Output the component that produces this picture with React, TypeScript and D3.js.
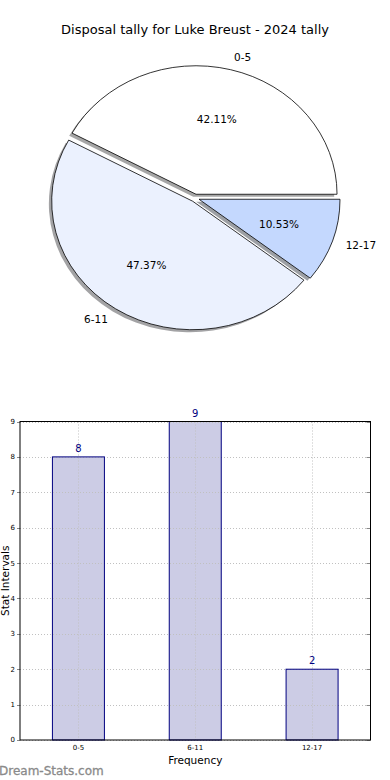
import { useEffect, useRef } from "react";
import * as d3 from "d3";

const categories = ["0-5", "6-11", "12-17"];
const counts = [8, 9, 2];
const sliceColors = ["#ffffff", "#ebf1fe", "#c4d8fe"];
const yTicks = [0, 1, 2, 3, 4, 5, 6, 7, 8, 9];

const W = 390;
const H = 780;
const FONT = "DejaVu Sans, Verdana, sans-serif";

export default function App() {
  const svgRef = useRef<SVGSVGElement>(null);

  useEffect(() => {
    if (!svgRef.current) return;
    const svg = d3.select(svgRef.current);
    svg.selectAll("*").remove();

    svg
      .append("rect")
      .attr("width", W)
      .attr("height", H)
      .attr("fill", "#ffffff");

    // ---- pie ----
    const cx = 195;
    const cy = 198;
    const rx = 141;
    const ry = 128.5;
    const explode = 0.03;
    const total = d3.sum(counts);

    svg
      .append("text")
      .attr("x", 195)
      .attr("y", 34)
      .attr("text-anchor", "middle")
      .attr("font-family", FONT)
      .attr("font-size", "13px")
      .attr("fill", "#000")
      .text("Disposal tally for Luke Breust - 2024 tally");

    // matplotlib starts at 3 o'clock and goes counterclockwise
    const pie = d3
      .pie<number>()
      .sort(null)
      .startAngle(Math.PI / 2)
      .endAngle(Math.PI / 2 - 2 * Math.PI);
    const arcs = pie(counts);
    const arc = d3.arc<d3.PieArcDatum<number>>().innerRadius(0).outerRadius(rx);

    const mid = (d: d3.PieArcDatum<number>) => (d.startAngle + d.endAngle) / 2;
    const px = (d: d3.PieArcDatum<number>, r: number) => cx + rx * r * Math.sin(mid(d));
    const py = (d: d3.PieArcDatum<number>, r: number) => cy - ry * r * Math.cos(mid(d));

    const pieG = svg
      .append("g")
      .attr("transform", `translate(${cx},${cy}) scale(1,${ry / rx})`);

    // shadows first
    pieG
      .append("g")
      .selectAll("path")
      .data(arcs)
      .join("path")
      .attr("transform", (d) => {
        const dx = Math.sin(mid(d)) * explode * rx - 0.02 * rx;
        const dy = -Math.cos(mid(d)) * explode * rx + 0.02 * rx;
        return `translate(${dx},${dy})`;
      })
      .attr("d", arc)
      .attr("fill", (d, i) => {
        const c = d3.rgb(sliceColors[i]);
        return d3.rgb(c.r * 0.3, c.g * 0.3, c.b * 0.3).toString();
      })
      .attr("fill-opacity", 0.5);

    pieG
      .append("g")
      .selectAll("path")
      .data(arcs)
      .join("path")
      .attr("transform", (d) => {
        const dx = Math.sin(mid(d)) * explode * rx;
        const dy = -Math.cos(mid(d)) * explode * rx;
        return `translate(${dx},${dy})`;
      })
      .attr("d", arc)
      .attr("fill", (d, i) => sliceColors[i])
      .attr("stroke", "#000")
      .attr("stroke-width", 0.8)
      .attr("vector-effect", "non-scaling-stroke")
      .attr("stroke-linejoin", "miter");

    svg
      .append("g")
      .selectAll("text")
      .data(arcs)
      .join("text")
      .attr("x", (d) => px(d, explode + 1.1))
      .attr("y", (d) => py(d, explode + 1.1))
      .attr("dy", "0.35em")
      .attr("text-anchor", (d) => (Math.sin(mid(d)) > 0 ? "start" : "end"))
      .attr("font-family", FONT)
      .attr("font-size", "10.5px")
      .attr("fill", "#000")
      .text((d, i) => categories[i]);

    svg
      .append("g")
      .selectAll("text")
      .data(arcs)
      .join("text")
      .attr("x", (d) => px(d, explode + 0.6))
      .attr("y", (d) => py(d, explode + 0.6))
      .attr("dy", "0.35em")
      .attr("text-anchor", "middle")
      .attr("font-family", FONT)
      .attr("font-size", "10.5px")
      .attr("fill", "#000")
      .text((d) => `${((d.data / total) * 100).toFixed(2)}%`);

    // ---- bar chart ----
    const left = 20;
    const right = 370.5;
    const top = 421.5;
    const bottom = 740;

    const x = d3
      .scaleBand<string>()
      .domain(categories)
      .range([left, right])
      .paddingInner(0.555)
      .paddingOuter(0.2775);
    const y = d3.scaleLinear().domain([0, 9]).range([bottom, top]);

    // bar fills
    svg
      .append("g")
      .selectAll("rect")
      .data(categories)
      .join("rect")
      .attr("x", (d) => x(d)!)
      .attr("y", (d, i) => y(counts[i]))
      .attr("width", x.bandwidth())
      .attr("height", (d, i) => bottom - y(counts[i]))
      .attr("fill", "#cccce5");

    // grid over the fills
    const grid = svg
      .append("g")
      .attr("stroke", "#c0c0c0")
      .attr("stroke-width", 1)
      .attr("stroke-dasharray", "1,2");
    grid
      .selectAll("line.h")
      .data(yTicks)
      .join("line")
      .attr("class", "h")
      .attr("x1", left)
      .attr("x2", right)
      .attr("y1", (d) => Math.round(y(d)) + 0.5)
      .attr("y2", (d) => Math.round(y(d)) + 0.5);
    grid
      .selectAll("line.v")
      .data(categories)
      .join("line")
      .attr("class", "v")
      .attr("x1", (d) => Math.round(x(d)! + x.bandwidth() / 2) + 0.5)
      .attr("x2", (d) => Math.round(x(d)! + x.bandwidth() / 2) + 0.5)
      .attr("y1", top)
      .attr("y2", bottom);

    // bar outlines
    svg
      .append("g")
      .selectAll("rect")
      .data(categories)
      .join("rect")
      .attr("x", (d) => x(d)!)
      .attr("y", (d, i) => y(counts[i]))
      .attr("width", x.bandwidth())
      .attr("height", (d, i) => bottom - y(counts[i]))
      .attr("fill", "none")
      .attr("stroke", "#000080")
      .attr("stroke-width", 1);

    svg
      .append("g")
      .selectAll("text")
      .data(categories)
      .join("text")
      .attr("x", (d) => x(d)! + x.bandwidth() / 2)
      .attr("y", (d, i) => y(counts[i]) - 5)
      .attr("text-anchor", "middle")
      .attr("font-family", FONT)
      .attr("font-size", "10px")
      .attr("fill", "#000080")
      .text((d, i) => counts[i]);

    // ticks
    const ticks = svg.append("g").attr("stroke", "#888").attr("stroke-width", 1);
    ticks
      .selectAll("line.l")
      .data(yTicks)
      .join("line")
      .attr("class", "l")
      .attr("x1", left - 3)
      .attr("x2", left)
      .attr("y1", (d) => Math.round(y(d)) + 0.5)
      .attr("y2", (d) => Math.round(y(d)) + 0.5);
    ticks
      .selectAll("line.r")
      .data(yTicks)
      .join("line")
      .attr("class", "r")
      .attr("x1", right - 4)
      .attr("x2", right)
      .attr("y1", (d) => Math.round(y(d)) + 0.5)
      .attr("y2", (d) => Math.round(y(d)) + 0.5);

    svg
      .append("rect")
      .attr("x", left)
      .attr("y", top)
      .attr("width", right - left)
      .attr("height", bottom - top)
      .attr("fill", "none")
      .attr("stroke", "#000")
      .attr("stroke-width", 1);

    svg
      .append("g")
      .selectAll("text")
      .data(yTicks)
      .join("text")
      .attr("x", left - 5)
      .attr("y", (d) => y(d))
      .attr("dy", "0.35em")
      .attr("text-anchor", "end")
      .attr("font-family", FONT)
      .attr("font-size", "7px")
      .attr("fill", "#000")
      .text((d) => d);

    svg
      .append("g")
      .selectAll("text")
      .data(categories)
      .join("text")
      .attr("x", (d) => x(d)! + x.bandwidth() / 2)
      .attr("y", bottom + 10)
      .attr("text-anchor", "middle")
      .attr("font-family", FONT)
      .attr("font-size", "7px")
      .attr("fill", "#000")
      .text((d) => d);

    svg
      .append("text")
      .attr("x", (left + right) / 2)
      .attr("y", 764)
      .attr("text-anchor", "middle")
      .attr("font-family", FONT)
      .attr("font-size", "10.5px")
      .attr("fill", "#000")
      .text("Frequency");

    svg
      .append("text")
      .attr("transform", `translate(9,${(top + bottom) / 2}) rotate(-90)`)
      .attr("text-anchor", "middle")
      .attr("font-family", FONT)
      .attr("font-size", "10.5px")
      .attr("fill", "#000")
      .text("Stat Intervals");

    svg
      .append("text")
      .attr("x", -1)
      .attr("y", 775)
      .attr("font-family", FONT)
      .attr("font-size", "12px")
      .attr("fill", "#8a8a8a")
      .attr("stroke", "#8a8a8a")
      .attr("stroke-width", 0.3)
      .text("Dream-Stats.com");
  }, []);

  return (
    <div style={{ position: "absolute", left: 0, top: 0, width: W, height: H }}>
      <svg ref={svgRef} width={W} height={H} style={{ display: "block" }} />
    </div>
  );
}
